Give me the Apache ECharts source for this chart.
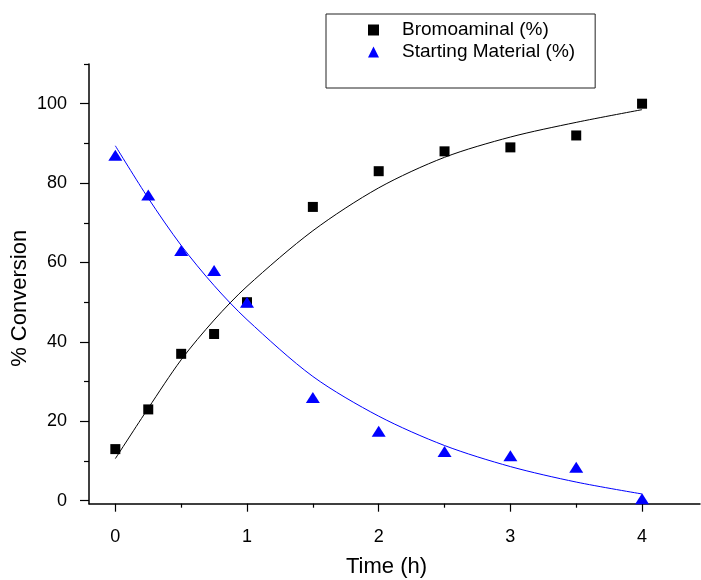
<!DOCTYPE html>
<html>
<head>
<meta charset="utf-8">
<script src="https://cdn.jsdelivr.net/npm/echarts@6/dist/echarts.min.js"></script>
<style>
html,body{margin:0;padding:0;background:#fff;}
#chart{width:701px;height:580px;}
</style>
</head>
<body>
<div id="chart"></div>
<script>
// ---- data ----
var timeH = [0, 0.25, 0.5, 0.75, 1, 1.5, 2, 2.5, 3, 3.5, 4];
var bromoaminal = [13, 23, 37, 42, 50, 74, 83, 88, 89, 92, 100];
var startingMaterial = [87, 77, 63, 58, 50, 26, 17.5, 12.4, 11.3, 8.4, 0.5];

// fitted curves, values
var fitTime = [0, 0.25, 0.5, 0.75, 1, 1.5, 2, 2.5, 3, 3.5, 4];
var bromoFit = [10.6, 23.3, 35.5, 45.5, 54, 68, 78.8, 86.5, 91.6, 95.3, 98.5];
var smFit = [89.4, 76.2, 64.3, 54.2, 45.6, 31.3, 21.3, 13.9, 8.6, 4.7, 1.7];

var xMajorTicks = [0, 1, 2, 3, 4];
var xMinorTicks = [0.5, 1.5, 2.5, 3.5];
var yMajorTicks = [0, 20, 40, 60, 80, 100];
var yMinorTicks = [10, 30, 50, 70, 90, 110];

var names = ['Bromoaminal (%)', 'Starting Material (%)'];

function pairs(xs, ys) {
  return xs.map(function (x, i) { return [x, ys[i]]; });
}

var FONT = "'Liberation Sans', Arial, sans-serif";
var chart = echarts.init(document.getElementById('chart'), null, {renderer: 'canvas'});

var xBase = {min: -0.2, max: 4.44, type: 'value', gridIndex: 0, position: 'bottom'};
var yBase = {min: -0.75, max: 110, type: 'value', gridIndex: 0, position: 'left'};

chart.setOption({
  animation: false,
  backgroundColor: '#fff',
  grid: {left: 89, right: 1, top: 64, bottom: 76.3, containLabel: false, outerBoundsMode: 'none'},
  legend: {
    orient: 'vertical',
    left: 326, top: 14,
    data: [{name: names[0], icon: 'rect'}, {name: names[1], icon: 'triangle'}],
    itemWidth: 11, itemHeight: 11, itemGap: 2,
    padding: [6, 20, 26, 42],
    borderColor: '#222', borderWidth: 1,
    itemStyle: {opacity: 1},
    textStyle: {fontSize: 19, fontFamily: FONT, color: '#000', lineHeight: 20, padding: [0, 0, 0, 18]}
  },
  xAxis: [
    Object.assign({}, xBase, {
      name: 'Time (h)', nameLocation: 'middle', nameGap: 52, nameMoveOverlap: false,
      nameTextStyle: {fontSize: 22, fontFamily: FONT, color: '#000', padding: [0, 16, 0, 0]},
      axisLine: {show: true, onZero: false, lineStyle: {color: '#000', width: 1.5}},
      axisTick: {show: true, inside: false, length: 8, customValues: xMajorTicks, lineStyle: {color: '#000', width: 1.2}},
      axisLabel: {show: true, margin: 24, customValues: xMajorTicks, fontSize: 18, fontFamily: FONT, color: '#000'},
      splitLine: {show: false}
    }),
    Object.assign({}, xBase, {
      axisLine: {show: false, onZero: false},
      axisTick: {show: true, inside: false, length: 4, customValues: xMinorTicks, lineStyle: {color: '#000', width: 1.2}},
      axisLabel: {show: false},
      splitLine: {show: false}
    })
  ],
  yAxis: [
    Object.assign({}, yBase, {
      name: '% Conversion', nameLocation: 'middle', nameGap: 58, nameRotate: 90, nameMoveOverlap: false,
      nameTextStyle: {fontSize: 22, fontFamily: FONT, color: '#000', padding: [0, 29, 0, 0]},
      axisLine: {show: true, onZero: false, lineStyle: {color: '#000', width: 1.5}},
      axisTick: {show: true, inside: false, length: 9, customValues: yMajorTicks, lineStyle: {color: '#000', width: 1.2}},
      axisLabel: {show: true, margin: 22, customValues: yMajorTicks, fontSize: 18, fontFamily: FONT, color: '#000'},
      splitLine: {show: false}
    }),
    Object.assign({}, yBase, {
      axisLine: {show: false, onZero: false},
      axisTick: {show: true, inside: false, length: 5, customValues: yMinorTicks, lineStyle: {color: '#000', width: 1.2}},
      axisLabel: {show: false},
      splitLine: {show: false}
    })
  ],
  series: [
    {
      name: names[0], type: 'scatter', xAxisIndex: 0, yAxisIndex: 0,
      symbol: 'rect', symbolSize: 10,
      itemStyle: {color: '#000', opacity: 1},
      data: pairs(timeH, bromoaminal), z: 3
    },
    {
      name: names[1], type: 'scatter', xAxisIndex: 0, yAxisIndex: 0,
      symbol: 'triangle', symbolSize: [14, 11],
      itemStyle: {color: '#0000ff', opacity: 1},
      data: pairs(timeH, startingMaterial), z: 4
    },
    {
      name: 'Bromoaminal fit', type: 'line', xAxisIndex: 0, yAxisIndex: 0,
      showSymbol: false, smooth: 0.3,
      lineStyle: {color: '#000', width: 1},
      data: pairs(fitTime, bromoFit), z: 5, silent: true
    },
    {
      name: 'Starting Material fit', type: 'line', xAxisIndex: 0, yAxisIndex: 0,
      showSymbol: false, smooth: 0.3,
      lineStyle: {color: '#0000ff', width: 1},
      data: pairs(fitTime, smFit), z: 5, silent: true
    }
  ]
});
</script>
</body>
</html>
